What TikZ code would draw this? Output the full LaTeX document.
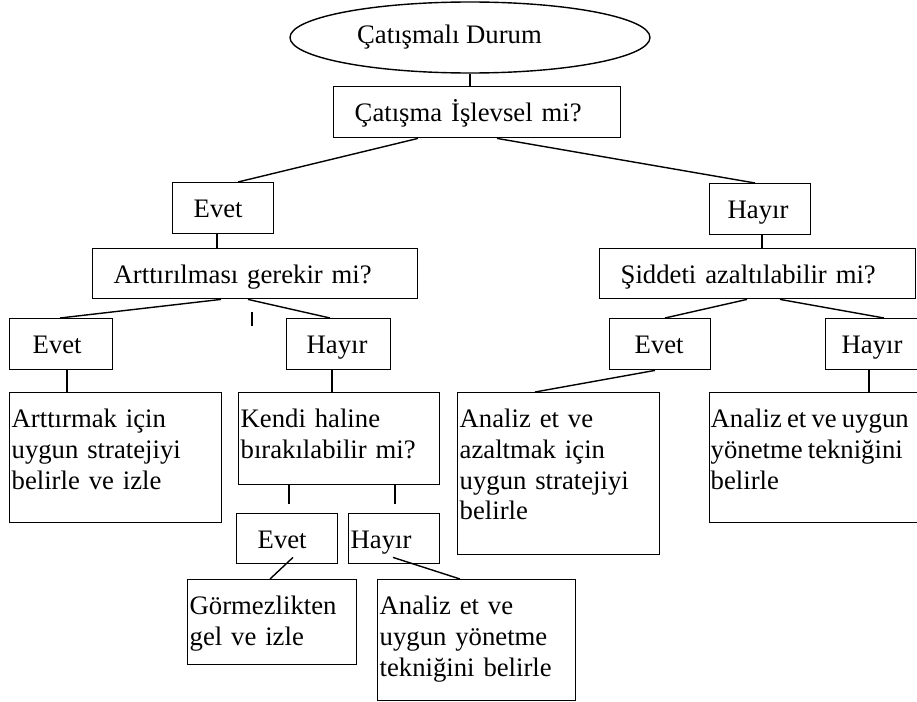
\documentclass[tikz,border=0pt]{standalone}
\usepackage{fontspec}
\setmainfont{Liberation Serif}
\usetikzlibrary{shapes.geometric}

\begin{document}
\begin{tikzpicture}[x=1pt,y=-1pt,line width=1.4pt,font=\fontsize{26.7}{30.7}\selectfont,
    start node/.style={ellipse,draw,minimum width=360pt,minimum height=71pt,inner sep=0pt},
    main node/.style={rectangle,draw,anchor=north west,align=left,inner xsep=21pt,inner ysep=0pt,text height=35pt},
    text node/.style={main node,inner xsep=2pt}]
            \clip (0,0) rectangle (917,701);

            \node[start node] (1) at (470,37.5) {Çatışmalı Durum\kern41pt};
            \node[main node,text width=245pt,text depth=16pt] (2) at (333,86) {Çatışma İşlevsel mi?};

            \node[main node,text width=59pt,text depth=16pt] (3) at (172,182) {Evet};
            \node[main node,inner xsep=18pt,text width=65pt,text depth=16pt] (4) at (709,183) {Hayır};
            \node[main node,text width=283pt,text depth=15pt] (5) at (92,248) {Arttırılması gerekir mi?};
            \node[main node,text width=274pt,text depth=15pt] (6) at (599,248) {Şiddeti azaltılabilir mi?};

            \node[main node,inner xsep=23pt,text width=57pt,text depth=16pt] (7) at (9,318) {Evet};
            \node[main node,inner xsep=20pt,text width=64pt,text depth=16pt] (8) at (286,318) {Hayır};
            \node[main node,inner xsep=25pt,text width=51pt,text depth=16pt] (9) at (609,318) {Evet};
            \node[main node,inner xsep=16pt,text width=73pt,text depth=16pt] (10) at (825,318) {Hayır};

            \node[text node,text width=208pt,text depth=95pt] (11) at (9,392) {Arttırmak için\\uygun stratejiyi\\belirle ve izle};
            \node[text node,text width=197pt,text depth=57pt] (12) at (238,392) {Kendi haline\\bırakılabilir mi?};
            \node[text node,text width=198pt,text depth=127pt] (13) at (457,392) {Analiz et ve\\azaltmak için\\uygun stratejiyi\\belirle};
            \node[text node,inner xsep=1pt,text width=219pt,text depth=95pt] (14) at (709,392) {\spaceskip=5.2pt plus 2pt minus 1pt\relax
                Analiz et ve uygun\\yönetme tekniğini\\belirle};

            \node[main node,text width=59pt,text depth=15pt] (15) at (236,513) {Evet};
            \node[text node,text width=87pt,text depth=15pt] (16) at (348,513) {Hayır};
            \node[text node,text width=165pt,text depth=50pt] (17) at (187,579) {Görmezlikten\\gel ve izle};
            \node[text node,text width=194pt,text depth=86pt] (18) at (377,579) {Analiz et ve\\uygun yönetme\\tekniğini belirle};

            \path
                (1.south) edge (1.south |- 2.north)
                ([xshift=85pt]2.south west) edge ([xshift=66pt]3.north west)
                ([xshift=164pt]2.south west) edge ([xshift=46pt]4.north west)

                ([xshift=45pt]3.south west) edge ([xshift=125pt]5.north west)
                ([xshift=53pt]4.south west) edge ([xshift=163pt]6.north west)

                ([xshift=129pt]5.south west) edge ([xshift=51pt]7.north west)
                ([xshift=156pt]5.south west) edge ([xshift=44pt]8.north west)
                ([xshift=148pt]6.south west) edge ([xshift=56pt]9.north west)
                ([xshift=181pt]6.south west) edge ([xshift=59pt]10.north west)

                ([xshift=58pt]7.south west) edge ([xshift=58pt]11.north west)
                ([xshift=46pt]8.south west) edge ([xshift=94pt]12.north west)
                ([xshift=46pt]9.south west) edge ([xshift=78pt]13.north west)
                ([xshift=44pt]10.south west) edge ([xshift=160pt]14.north west)

                ([xshift=57pt,yshift=7pt]15.south west) edge ([xshift=83pt]17.north west)
                ([xshift=45pt,yshift=7pt]16.south west) edge ([xshift=83pt]18.north west)
            ;

            % loose stubs under the boxes
            \draw ([xshift=160pt,yshift=-13pt]5.south west) -- ++(0,14);
            \draw ([xshift=51pt]12.south west) -- ++(0,19);
            \draw ([xshift=157pt]12.south west) -- ++(0,19);
        \end{tikzpicture}
\end{document}
